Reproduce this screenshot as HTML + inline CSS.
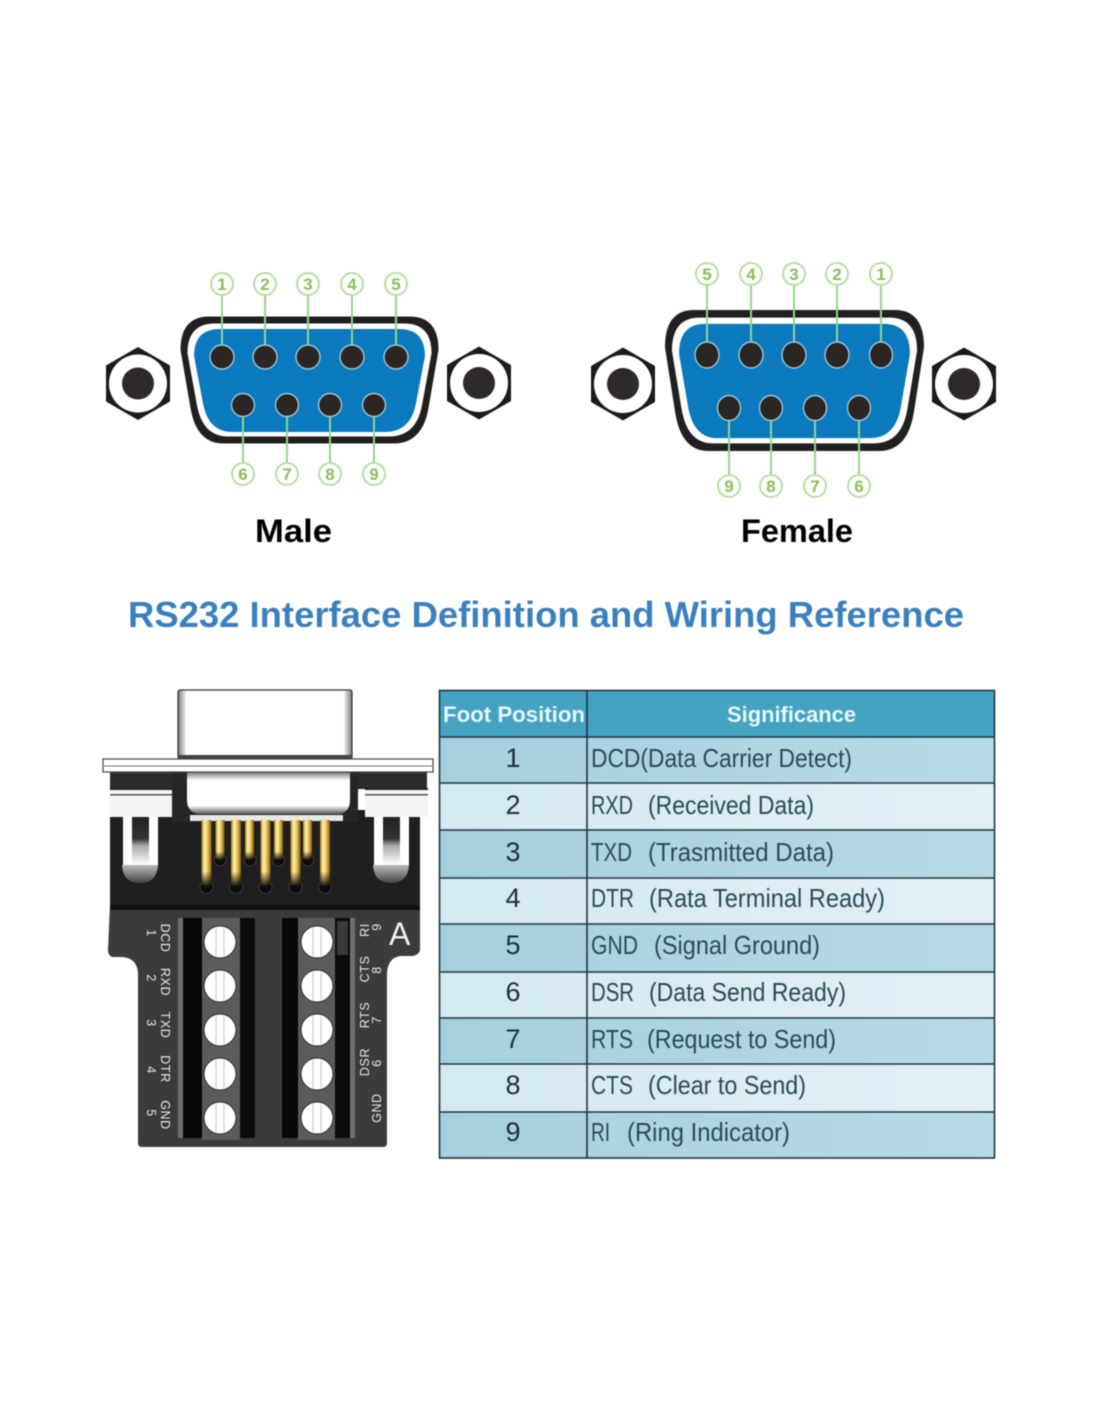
<!DOCTYPE html>
<html>
<head>
<meta charset="utf-8">
<title>RS232 Interface Definition and Wiring Reference</title>
<style>
html,body{margin:0;padding:0;background:#fff;width:1100px;height:1422px;overflow:hidden}
svg{display:block;filter:blur(.45px)}
text{font-family:"Liberation Sans",sans-serif}
.g{font-size:17px;font-weight:bold;fill:#86bf58;text-anchor:middle}
.row{font-size:26px;fill:#2b4a58}
.num{font-size:27px;fill:#1c2f38;text-anchor:middle}
.lab{font-size:12.5px;fill:#e8e8e8;text-anchor:middle;letter-spacing:.6px}
</style>
</head>
<body>
<svg width="1100" height="1422" viewBox="0 0 1100 1422" xmlns="http://www.w3.org/2000/svg">
<defs>
<path id="shell" d="M-100,-63.5H100Q129,-63.5 129,-30L119,28Q113,63.5 84,63.5H-86Q-113,63.5 -119,28L-129,-30Q-129,-63.5 -100,-63.5Z"/>
<g id="nut">
<polygon points="0,-36.5 32,-18 32,18 0,36.5 -32,18 -32,-18" fill="#1d1a1a"/>
<circle r="29" fill="#fff"/>
<circle r="16" fill="#2f2a2a"/>
</g>
<linearGradient id="gold" x1="0" x2="1" y1="0" y2="0">
<stop offset="0" stop-color="#a67c18"/><stop offset=".3" stop-color="#fff2b8"/><stop offset=".6" stop-color="#eccb5c"/><stop offset="1" stop-color="#7c5a10"/>
</linearGradient>
<linearGradient id="goldv" x1="0" x2="0" y1="0" y2="1">
<stop offset="0" stop-color="#000" stop-opacity="0"/><stop offset=".78" stop-color="#000" stop-opacity="0"/><stop offset="1" stop-color="#000" stop-opacity=".9"/>
</linearGradient>
<linearGradient id="odd" x1="0" x2="1" y1="0" y2="0">
<stop offset="0" stop-color="#a6d0df"/><stop offset="1" stop-color="#b8dae7"/>
</linearGradient>
<linearGradient id="even" x1="0" x2="1" y1="0" y2="0">
<stop offset="0" stop-color="#d4e9f0"/><stop offset="1" stop-color="#e2f0f5"/>
</linearGradient>
<linearGradient id="sh" x1="0" x2="1" y1="0" y2="0">
<stop offset="0" stop-color="#777"/><stop offset=".05" stop-color="#fff"/><stop offset=".95" stop-color="#fff"/><stop offset="1" stop-color="#777"/>
</linearGradient>
<linearGradient id="bodyw" x1="0" x2="0" y1="0" y2="1">
<stop offset="0" stop-color="#777"/><stop offset=".2" stop-color="#fff"/><stop offset=".8" stop-color="#fff"/><stop offset="1" stop-color="#555"/>
</linearGradient>
<linearGradient id="clipg" x1="0" x2="0" y1="0" y2="1">
<stop offset="0" stop-color="#222"/><stop offset=".45" stop-color="#333"/><stop offset=".6" stop-color="#aaa"/><stop offset="1" stop-color="#fff"/>
</linearGradient>
<linearGradient id="semi" x1="0" x2="0" y1="0" y2="1">
<stop offset="0" stop-color="#bbb"/><stop offset="1" stop-color="#444"/>
</linearGradient>
</defs>

<!-- MALE -->
<use href="#nut" x="138" y="383.5"/>
<use href="#nut" x="479" y="383"/>
<use href="#shell" transform="translate(309.5,380)" fill="#231f1f"/>
<use href="#shell" transform="translate(309.5,380) scale(.946,.89)" fill="#fff"/>
<use href="#shell" transform="translate(309.5,380.5) scale(.895,.811)" fill="#0a79bd"/>
<g stroke="#96d38f" stroke-width="2" fill="none">
<path d="M222,295V347M265,295V347M308,295V347M352,295V347M396,295V347M243,415V463M287,415V463M330,415V463M374,415V463"/>
</g>
<g fill="#2b2523" stroke="#9cc8d6" stroke-width="1.4">
<circle cx="222" cy="357" r="12"/><circle cx="265" cy="357" r="12"/><circle cx="308" cy="357" r="12"/><circle cx="352" cy="357" r="12"/><circle cx="396" cy="357" r="12"/>
<circle cx="243" cy="405" r="11.5"/><circle cx="287" cy="405" r="11.5"/><circle cx="330" cy="405" r="11.5"/><circle cx="374" cy="405" r="11.5"/>
</g>
<g fill="#fff" stroke="#b5dea0" stroke-width="2">
<circle cx="222" cy="284" r="11"/><circle cx="265" cy="284" r="11"/><circle cx="308" cy="284" r="11"/><circle cx="352" cy="284" r="11"/><circle cx="396" cy="284" r="11"/>
<circle cx="243" cy="474" r="11"/><circle cx="287" cy="474" r="11"/><circle cx="330" cy="474" r="11"/><circle cx="374" cy="474" r="11"/>
</g>
<text class="g" x="222" y="290">1</text><text class="g" x="265" y="290">2</text><text class="g" x="308" y="290">3</text><text class="g" x="352" y="290">4</text><text class="g" x="396" y="290">5</text>
<text class="g" x="243" y="480">6</text><text class="g" x="287" y="480">7</text><text class="g" x="330" y="480">8</text><text class="g" x="374" y="480">9</text>

<!-- FEMALE -->
<use href="#nut" x="623" y="384"/>
<use href="#nut" x="964" y="384"/>
<use href="#shell" transform="translate(794.5,380.5) scale(1.004,1.11)" fill="#231f1f"/>
<use href="#shell" transform="translate(794.5,380.5) scale(.95,.99)" fill="#fff"/>
<use href="#shell" transform="translate(794.5,381) scale(.895,.9)" fill="#0a79bd"/>
<g stroke="#96d38f" stroke-width="2" fill="none">
<path d="M707,285V343M751,285V343M794,285V343M837,285V343M881,285V343M729,420V475M771,420V475M815,420V475M859,420V475"/>
</g>
<g fill="#2b2523" stroke="#9cc8d6" stroke-width="1.4">
<ellipse cx="707" cy="355" rx="12" ry="13"/><ellipse cx="751" cy="355" rx="12" ry="13"/><ellipse cx="794" cy="355" rx="12" ry="13"/><ellipse cx="837" cy="355" rx="12" ry="13"/><ellipse cx="881" cy="355" rx="11.5" ry="13"/>
<ellipse cx="729" cy="408" rx="11.5" ry="12.5"/><ellipse cx="771" cy="408" rx="11.5" ry="12.5"/><ellipse cx="815" cy="408" rx="11.5" ry="12.5"/><ellipse cx="859" cy="408" rx="11.5" ry="12.5"/>
</g>
<g fill="#fff" stroke="#b5dea0" stroke-width="2">
<circle cx="707" cy="274" r="11"/><circle cx="751" cy="274" r="11"/><circle cx="794" cy="274" r="11"/><circle cx="837" cy="274" r="11"/><circle cx="881" cy="274" r="11"/>
<circle cx="729" cy="486" r="11"/><circle cx="771" cy="486" r="11"/><circle cx="815" cy="486" r="11"/><circle cx="859" cy="486" r="11"/>
</g>
<text class="g" x="707" y="280">5</text><text class="g" x="751" y="280">4</text><text class="g" x="794" y="280">3</text><text class="g" x="837" y="280">2</text><text class="g" x="881" y="280">1</text>
<text class="g" x="729" y="492">9</text><text class="g" x="771" y="492">8</text><text class="g" x="815" y="492">7</text><text class="g" x="859" y="492">6</text>

<!-- LABELS -->
<text x="255" y="542" font-size="32" font-weight="bold" fill="#000" textLength="77" lengthAdjust="spacingAndGlyphs">Male</text>
<text x="741" y="542" font-size="32" font-weight="bold" fill="#000" textLength="112" lengthAdjust="spacingAndGlyphs">Female</text>
<text x="128" y="627" font-size="36" font-weight="bold" fill="#3a80bd" textLength="836" lengthAdjust="spacingAndGlyphs">RS232 Interface Definition and Wiring Reference</text>

<!-- DEVICE -->
<path d="M110,905H420V950Q419,955 412,956H400Q388,958 387,973V1143Q387,1147 383,1147H142Q138,1147 138,1143V973Q137,958 122,957H112Q108,955 108,950Z" fill="#3b3b3d"/>
<rect x="110" y="810" width="310" height="100" fill="#1f1f1f"/>
<rect x="110" y="905" width="310" height="5" fill="#111"/>
<rect x="178" y="690" width="174" height="69" rx="2" fill="url(#sh)" stroke="#333" stroke-width="1.2"/>
<rect x="186" y="692" width="158" height="64" fill="#fff"/>
<rect x="178" y="755" width="174" height="4" fill="#444"/>
<rect x="110" y="772" width="64" height="17" fill="#2b2b2b"/>
<rect x="353" y="772" width="74" height="17" fill="#2b2b2b"/>
<rect x="172" y="772" width="186" height="50" fill="#262626"/>
<path d="M187,772H350V800Q350,813 338,814H200Q187,813 187,800Z" fill="url(#bodyw)"/>
<rect x="190" y="815" width="153" height="6" fill="#e8e8e8"/>
<rect x="103" y="759" width="330" height="13" fill="#fff" stroke="#444" stroke-width="1.2"/>
<line x1="104" y1="766" x2="432" y2="766" stroke="#777" stroke-width="1"/>
<rect x="110" y="789" width="62" height="28" fill="#f5f5f5"/>
<rect x="110" y="788" width="62" height="2" fill="#222"/>
<rect x="110" y="794" width="62" height="1.5" fill="#555"/>
<rect x="365" y="789" width="63" height="28" fill="#f5f5f5"/>
<rect x="365" y="788" width="63" height="2" fill="#222"/>
<rect x="365" y="794" width="63" height="1.5" fill="#555"/>
<rect x="123" y="817" width="9" height="48" fill="#fff"/>
<rect x="149" y="817" width="9" height="48" fill="#fff"/>
<rect x="132" y="817" width="17" height="48" fill="url(#clipg)"/>
<path d="M122,865H158Q157,883 140,883Q123,883 122,865Z" fill="url(#semi)"/>
<rect x="374" y="817" width="9" height="48" fill="#fff"/>
<rect x="400" y="817" width="9" height="48" fill="#fff"/>
<rect x="383" y="817" width="17" height="48" fill="url(#clipg)"/>
<path d="M373,865H409Q408,883 391,883Q374,883 373,865Z" fill="url(#semi)"/>
<g fill="#0c0c0c" stroke="#3c3c3c" stroke-width="1">
<circle cx="206.5" cy="887" r="6.5"/><circle cx="236" cy="887" r="6.5"/><circle cx="265.5" cy="887" r="6.5"/><circle cx="295.5" cy="887" r="6.5"/><circle cx="325" cy="887" r="6.5"/>
<circle cx="220" cy="860" r="6"/><circle cx="250" cy="860" r="6"/><circle cx="278.5" cy="860" r="6"/><circle cx="307.5" cy="860" r="6"/>
</g>
<g fill="url(#gold)">
<rect x="201.5" y="820" width="10" height="66"/><rect x="231" y="820" width="10" height="66"/><rect x="260.5" y="820" width="10" height="66"/><rect x="290.5" y="820" width="10" height="66"/><rect x="320" y="820" width="10" height="66"/>
<rect x="215.5" y="820" width="9" height="40"/><rect x="245" y="820" width="9" height="40"/><rect x="274" y="820" width="9" height="40"/><rect x="303" y="820" width="9" height="40"/>
</g>
<g fill="url(#goldv)">
<rect x="201.5" y="820" width="10" height="66"/><rect x="231" y="820" width="10" height="66"/><rect x="260.5" y="820" width="10" height="66"/><rect x="290.5" y="820" width="10" height="66"/><rect x="320" y="820" width="10" height="66"/>
<rect x="215.5" y="820" width="9" height="40"/><rect x="245" y="820" width="9" height="40"/><rect x="274" y="820" width="9" height="40"/><rect x="303" y="820" width="9" height="40"/>
</g>
<rect x="178" y="918" width="5" height="220" fill="#6f6f6f"/>
<rect x="183" y="918" width="19" height="220" fill="#070707"/>
<rect x="240" y="918" width="15" height="220" fill="#0b0b0b"/>
<rect x="202" y="918" width="38" height="222" fill="#5b5b5b"/>
<rect x="282" y="918" width="16" height="220" fill="#070707"/>
<rect x="335" y="918" width="15" height="220" fill="#0b0b0b"/>
<rect x="350" y="918" width="5" height="220" fill="#6f6f6f"/>
<rect x="298" y="918" width="37" height="222" fill="#5b5b5b"/>
<rect x="337" y="921" width="11" height="34" fill="#3a3a3a"/>
<g fill="#fff" stroke="#2a2a2a" stroke-width="1">
<circle cx="220" cy="942" r="16"/><circle cx="220" cy="986" r="16"/><circle cx="220" cy="1030" r="16"/><circle cx="220" cy="1074" r="16"/><circle cx="220" cy="1118" r="16"/>
<circle cx="317" cy="942" r="16"/><circle cx="317" cy="986" r="16"/><circle cx="317" cy="1030" r="16"/><circle cx="317" cy="1074" r="16"/><circle cx="317" cy="1118" r="16"/>
</g>
<g stroke="#c4c4c4" stroke-width="1" fill="none">
<path d="M216,928V956M224,928V956M216,972V1000M224,972V1000M216,1016V1044M224,1016V1044M216,1060V1088M224,1060V1088M216,1104V1132M224,1104V1132"/>
<path d="M313,928V956M321,928V956M313,972V1000M321,972V1000M313,1016V1044M321,1016V1044M313,1060V1088M321,1060V1088M313,1104V1132M321,1104V1132"/>
</g>
<text class="lab" transform="translate(161,938) rotate(90)">DCD</text>
<text class="lab" transform="translate(147,933) rotate(90)">1</text>
<text class="lab" transform="translate(161,982) rotate(90)">RXD</text>
<text class="lab" transform="translate(147,978) rotate(90)">2</text>
<text class="lab" transform="translate(161,1025) rotate(90)">TXD</text>
<text class="lab" transform="translate(147,1023) rotate(90)">3</text>
<text class="lab" transform="translate(161,1069) rotate(90)">DTR</text>
<text class="lab" transform="translate(147,1070) rotate(90)">4</text>
<text class="lab" transform="translate(161,1115) rotate(90)">GND</text>
<text class="lab" transform="translate(147,1113) rotate(90)">5</text>
<text class="lab" transform="translate(369,930) rotate(-90)">RI</text>
<text class="lab" transform="translate(381,927) rotate(-90)">9</text>
<text class="lab" transform="translate(369,969) rotate(-90)">CTS</text>
<text class="lab" transform="translate(381,970) rotate(-90)">8</text>
<text class="lab" transform="translate(369,1015) rotate(-90)">RTS</text>
<text class="lab" transform="translate(381,1020) rotate(-90)">7</text>
<text class="lab" transform="translate(369,1062) rotate(-90)">DSR</text>
<text class="lab" transform="translate(381,1063) rotate(-90)">6</text>
<text class="lab" transform="translate(381,1108) rotate(-90)">GND</text>
<text x="389" y="945" font-size="32" fill="#f0f0f0">A</text>

<!-- TABLE -->
<rect x="439" y="690" width="556" height="47" fill="#45a3c2"/>
<rect x="439" y="737" width="556" height="46" fill="url(#odd)"/>
<rect x="439" y="783" width="556" height="47" fill="url(#even)"/>
<rect x="439" y="830" width="556" height="48" fill="url(#odd)"/>
<rect x="439" y="878" width="556" height="46" fill="url(#even)"/>
<rect x="439" y="924" width="556" height="48" fill="url(#odd)"/>
<rect x="439" y="972" width="556" height="46" fill="url(#even)"/>
<rect x="439" y="1018" width="556" height="46" fill="url(#odd)"/>
<rect x="439" y="1064" width="556" height="48" fill="url(#even)"/>
<rect x="439" y="1112" width="556" height="46" fill="url(#odd)"/>
<g stroke="#1f3540" stroke-width="1.6" fill="none">
<rect x="439.5" y="690.5" width="555" height="467.5"/>
<path d="M587,690V1158M439,737H995M439,783H995M439,830H995M439,878H995M439,924H995M439,972H995M439,1018H995M439,1064H995M439,1112H995"/>
</g>
<text x="443" y="722" font-size="22" font-weight="bold" fill="#e6f6f8" textLength="142" lengthAdjust="spacingAndGlyphs">Foot Position</text>
<text x="727" y="722" font-size="22" font-weight="bold" fill="#e6f6f8" textLength="129" lengthAdjust="spacingAndGlyphs">Significance</text>

<text class="num" x="513" y="767">1</text>
<text class="num" x="513" y="814">2</text>
<text class="num" x="513" y="861">3</text>
<text class="num" x="513" y="907">4</text>
<text class="num" x="513" y="954">5</text>
<text class="num" x="513" y="1001">6</text>
<text class="num" x="513" y="1048">7</text>
<text class="num" x="513" y="1094">8</text>
<text class="num" x="513" y="1141">9</text>

<text class="row" x="591" y="767" textLength="261" lengthAdjust="spacingAndGlyphs">DCD(Data Carrier Detect)</text>
<text class="row" x="591" y="814" textLength="42" lengthAdjust="spacingAndGlyphs">RXD</text>
<text class="row" x="648" y="814" textLength="166" lengthAdjust="spacingAndGlyphs">(Received Data)</text>
<text class="row" x="591" y="861" textLength="41" lengthAdjust="spacingAndGlyphs">TXD</text>
<text class="row" x="648" y="861" textLength="186" lengthAdjust="spacingAndGlyphs">(Trasmitted Data)</text>
<text class="row" x="591" y="907" textLength="43" lengthAdjust="spacingAndGlyphs">DTR</text>
<text class="row" x="649" y="907" textLength="236" lengthAdjust="spacingAndGlyphs">(Rata Terminal Ready)</text>
<text class="row" x="591" y="954" textLength="47" lengthAdjust="spacingAndGlyphs">GND</text>
<text class="row" x="654" y="954" textLength="166" lengthAdjust="spacingAndGlyphs">(Signal Ground)</text>
<text class="row" x="591" y="1001" textLength="43" lengthAdjust="spacingAndGlyphs">DSR</text>
<text class="row" x="649" y="1001" textLength="197" lengthAdjust="spacingAndGlyphs">(Data Send Ready)</text>
<text class="row" x="591" y="1048" textLength="42" lengthAdjust="spacingAndGlyphs">RTS</text>
<text class="row" x="647" y="1048" textLength="189" lengthAdjust="spacingAndGlyphs">(Request to Send)</text>
<text class="row" x="591" y="1094" textLength="42" lengthAdjust="spacingAndGlyphs">CTS</text>
<text class="row" x="648" y="1094" textLength="158" lengthAdjust="spacingAndGlyphs">(Clear to Send)</text>
<text class="row" x="591" y="1141" textLength="19" lengthAdjust="spacingAndGlyphs">RI</text>
<text class="row" x="627" y="1141" textLength="163" lengthAdjust="spacingAndGlyphs">(Ring Indicator)</text>
</svg>
</body>
</html>
